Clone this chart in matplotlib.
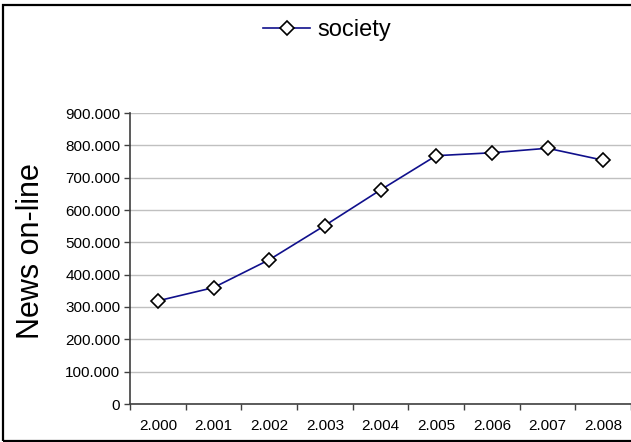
import numpy as np
from matplotlib import pyplot as plt
from matplotlib.patches import Rectangle
from matplotlib.ticker import FuncFormatter

plt.rcParams['font.family'] = ['Liberation Sans', 'DejaVu Sans']

years = ["2.000", "2.001", "2.002", "2.003", "2.004", "2.005", "2.006", "2.007", "2.008"]
society = [319000, 360000, 446000, 552000, 662000, 768000, 777000, 791000, 754000]
y_ticks = [0, 100000, 200000, 300000, 400000, 500000, 600000, 700000, 800000, 900000]

W, H = 631, 442
fig = plt.figure(figsize=(W/100, H/100), dpi=100)
ax = fig.add_axes([130/W, 1 - 404/H, 501/W, (404 - 113)/H])

x = np.arange(len(years))
ax.plot(x, society, color="#10108c", linewidth=1.2, marker="D", markersize=7.5,
        markerfacecolor="white", markeredgecolor="black", markeredgewidth=1.2,
        label="society", zorder=3)

ax.set_xlim(-0.5, len(years) - 0.5)
ax.set_ylim(0, 900000)
ax.set_yticks(y_ticks)
ax.yaxis.set_major_formatter(FuncFormatter(lambda v, p: "0" if v == 0 else f"{int(v):,}".replace(",", ".")))
ax.set_xticks(x)
ax.set_xticklabels(years)
ax.set_xticks(np.arange(-0.5, len(years)), minor=True)
ax.tick_params(axis="x", which="major", length=0, pad=11, labelsize=11)
ax.tick_params(axis="x", which="minor", length=4, width=1, color="#404040", direction="out")
ax.tick_params(axis="y", length=4, width=1, color="#404040", labelsize=11, pad=3)

ax.grid(axis="y", color="#c0c0c0", linewidth=1)
ax.set_axisbelow(True)
for s in ["top", "right"]:
    ax.spines[s].set_visible(False)
for s in ["left", "bottom"]:
    ax.spines[s].set_color("#404040")
    ax.spines[s].set_linewidth(1.2)

ax.set_ylabel("News on-line", fontsize=22)
ax.yaxis.set_label_coords((46 - 130)/501, 0.525)

fig.legend(loc="center", bbox_to_anchor=(327/W, 1 - 30/H), frameon=False, fontsize=17,
           handlelength=2.0, handletextpad=0.3)

fig.patches.append(Rectangle((3/W, 1/H), 1, 1 - 6/H, transform=fig.transFigure,
                             fill=False, edgecolor="black", linewidth=1.6))

fig.savefig("out.png", dpi=100)
